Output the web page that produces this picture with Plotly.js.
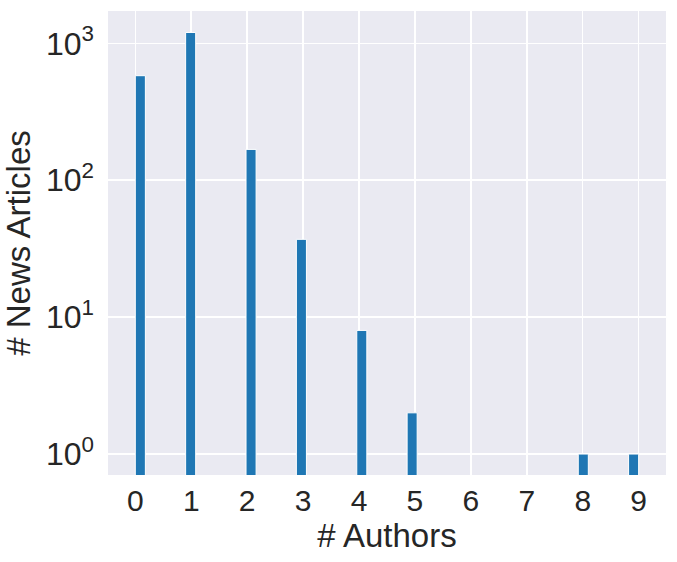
<!DOCTYPE html>
<html>
<head>
<meta charset="utf-8">
<script src="https://cdn.plot.ly/plotly-3.0.1.min.js"></script>
<style>html,body{margin:0;padding:0;background:#fff;}#chart{width:677px;height:562px;}</style>
</head>
<body>
<div id="chart"></div>
<script>
// Data (number of authors -> number of news articles)
const authors = [0, 1, 2, 3, 4, 5, 8, 9];
const articles = [580, 1200, 168, 37, 8, 2, 1, 1];
const tickValsX = [0, 1, 2, 3, 4, 5, 6, 7, 8, 9];
const tickExpY = [0, 1, 2, 3];

// numpy-style histogram binning: 50 equal bins over [min, max], last bin closed
const nBins = 50;
const lo = Math.min(...authors), hi = Math.max(...authors);
const binSize = (hi - lo) / nBins;
const binCenters = authors.map(v => {
  const idx = Math.min(Math.floor((v - lo) / binSize + 1e-9), nBins - 1);
  return lo + (idx + 0.5) * binSize;
});

const trace = {
  type: 'bar',
  x: binCenters,
  y: articles,
  width: binSize,
  marker: {color: '#1f77b4', line: {color: '#ffffff', width: 1}},
  hoverinfo: 'x+y'
};

const fam = 'Liberation Sans, Arial, sans-serif';
const ink = '#262626';
const layout = {
  width: 677, height: 562,
  margin: {l: 108, r: 11, t: 11, b: 87},
  paper_bgcolor: '#ffffff',
  plot_bgcolor: '#eaeaf2',
  font: {family: fam, color: ink},
  showlegend: false,
  bargap: 0,
  xaxis: {
    range: [-0.488, 9.489],
    tickvals: tickValsX,
    ticktext: tickValsX.map(String),
    showgrid: true, gridcolor: '#ffffff', gridwidth: 1.5,
    zeroline: false, showline: false, ticks: '',
    ticklabelstandoff: 5,
    tickfont: {size: 30, family: fam, color: ink},
    title: {text: '# Authors', font: {size: 33, family: fam, color: ink}, standoff: 1}
  },
  yaxis: {
    type: 'log',
    range: [-0.153, 3.236],
    tickvals: tickExpY.map(e => Math.pow(10, e)),
    ticktext: tickExpY.map(e => '10<sup>' + e + '</sup>'),
    showgrid: true, gridcolor: '#ffffff', gridwidth: 1.5,
    zeroline: false, showline: false, ticks: '',
    ticklabelstandoff: 13,
    tickfont: {size: 32, family: fam, color: ink},
    title: {text: '# News Articles', font: {size: 33, family: fam, color: ink}, standoff: 6}
  }
};

Plotly.newPlot('chart', [trace], layout, {displayModeBar: false, staticPlot: true});
</script>
</body>
</html>
